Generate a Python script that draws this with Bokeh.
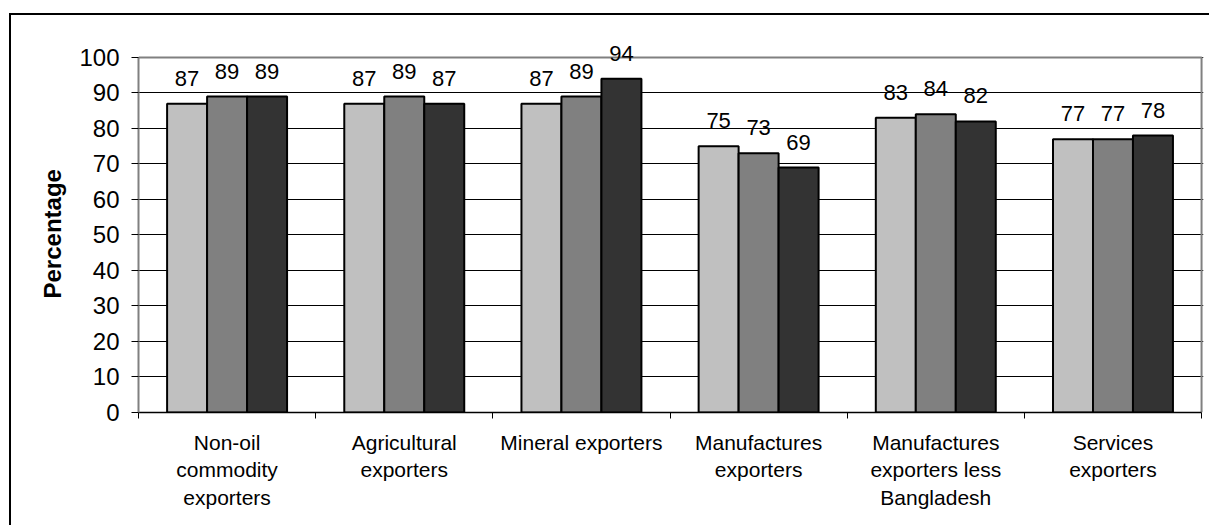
from bokeh.plotting import figure
from bokeh.models import Range1d, FixedTicker, ColumnDataSource, LabelSet, Title
from bokeh.core.properties import value
from bokeh.embed import file_html
from bokeh.resources import INLINE

# Export groups (labels wrapped as printed under the axis)
categories = [
    "Non-oil\ncommodity\nexporters",
    "Agricultural\nexporters",
    "Mineral exporters",
    "Manufactures\nexporters",
    "Manufactures\nexporters less\nBangladesh",
    "Services\nexporters",
]
series_a = [87, 87, 87, 75, 83, 77]
series_b = [89, 89, 89, 73, 84, 77]
series_c = [89, 87, 94, 69, 82, 78]
y_ticks = [0, 10, 20, 30, 40, 50, 60, 70, 80, 90, 100]

series = [series_a, series_b, series_c]
fills = ["#c0c0c0", "#808080", "#333333"]
FONT = "Liberation Sans"
bar_w = 0.2257

x_lo, x_hi = -0.5, len(categories) - 0.5
y_lo, y_hi = y_ticks[0], y_ticks[-1]

# the range runs a little past the boxed area so value labels above it stay visible
p = figure(
    width=1200, height=512,
    x_range=Range1d(x_lo, x_hi + 0.011),
    y_range=Range1d(y_lo, y_hi + 10.14),
    output_backend="svg", toolbar_location=None,
    min_border_left=127, min_border_right=8,
    min_border_top=6, min_border_bottom=115,
)
p.margin = (13, 0, 0, 9)
p.styles = {"border-top": "2px solid #000", "border-left": "2px solid #000"}

p.outline_line_color = None
p.background_fill_color = "white"
p.border_fill_color = "white"

# grey box closing the plotting area at the top and right
p.line([x_lo, x_hi, x_hi], [y_hi, y_hi, y_lo], line_color="#808080", line_width=2)

for k, (vals, col) in enumerate(zip(series, fills)):
    off = (k - 1) * bar_w
    xs = [i + off for i in range(len(categories))]
    src = ColumnDataSource(dict(x=xs, top=vals, lab=[str(v) for v in vals]))
    p.vbar(x="x", top="top", bottom=0, width=bar_w, source=src,
           fill_color=col, line_color="black", line_width=2)
    p.add_layout(LabelSet(x="x", y="top", text="lab", source=src,
                          text_align="center", text_baseline="alphabetic",
                          y_offset=18, text_font=value(FONT),
                          text_font_size=value("22px"), text_color="black"))

# y axis
p.yaxis.ticker = FixedTicker(ticks=y_ticks)
p.yaxis.bounds = (y_lo, y_hi)
p.yaxis.axis_line_color = "#808080"
p.yaxis.axis_line_width = 2
p.yaxis.major_tick_in = 0
p.yaxis.major_tick_out = 7
p.yaxis.major_tick_line_color = "black"
p.yaxis.minor_tick_line_color = None
p.yaxis.major_label_standoff = 12
p.yaxis.major_label_text_font = FONT
p.yaxis.major_label_text_font_size = "24px"
p.yaxis.major_label_text_color = "black"

# axis title, centred on the 0-100 span
p.add_layout(Title(text="Percentage", align="left", offset=114,
                   text_font=FONT, text_font_style="bold",
                   text_font_size="24px", text_color="black",
                   standoff=22), "left")

# x axis: labels at group centres, ticks at group boundaries
centres = list(range(len(categories)))
bounds = [i - 0.5 for i in range(len(categories) + 1)]
p.xaxis.ticker = FixedTicker(ticks=centres, minor_ticks=bounds)
p.xaxis.bounds = (x_lo, x_hi)
p.xaxis.major_label_overrides = {i: c for i, c in enumerate(categories)}
p.xaxis.axis_line_color = "black"
p.xaxis.axis_line_width = 1.5
p.xaxis.major_tick_line_color = None
p.xaxis.major_tick_in = 0
p.xaxis.major_tick_out = 0
p.xaxis.minor_tick_line_color = "black"
p.xaxis.minor_tick_in = 0
p.xaxis.minor_tick_out = 6
p.xaxis.major_label_standoff = 12
p.xaxis.major_label_text_font = FONT
p.xaxis.major_label_text_font_size = "21px"
p.xaxis.major_label_text_color = "black"

p.xgrid.grid_line_color = None
p.ygrid.grid_line_color = "black"
p.ygrid.grid_line_width = 1
p.ygrid.bounds = (x_lo, x_hi)

open("out.html", "w").write(file_html(p, INLINE))
